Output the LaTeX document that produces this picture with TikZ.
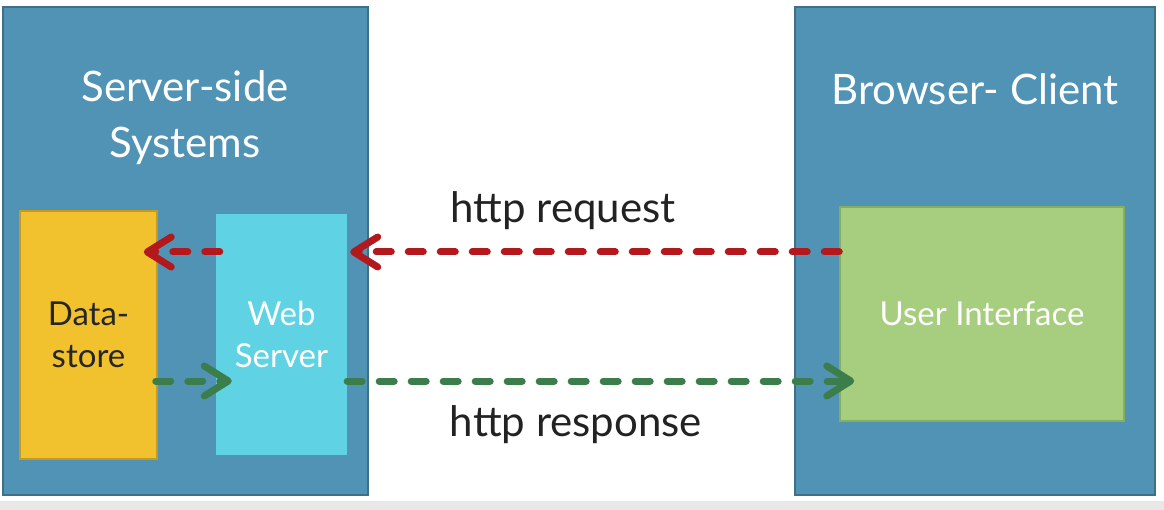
\documentclass[tikz,border=0pt]{standalone}
\usepackage{fontspec}
\setmainfont{Lato}
\usetikzlibrary{arrows.meta,calc}
\definecolor{panelblue}{HTML}{5093B5}
\definecolor{paneledge}{HTML}{3F6E87}
\definecolor{dsfill}{HTML}{F2C12E}
\definecolor{dsedge}{HTML}{C49A22}
\definecolor{wsfill}{HTML}{5FD3E3}
\definecolor{uifill}{HTML}{A7CE7F}
\definecolor{uiedge}{HTML}{86AE5E}
\definecolor{reqred}{HTML}{B3191C}
\definecolor{resgreen}{HTML}{3B7D4B}
\definecolor{labelgray}{HTML}{222222}
\begin{document}
\begin{tikzpicture}[x=1pt,y=-1pt,
  box/.style={rectangle, inner sep=0pt, align=center},
  panel/.style={box, draw=paneledge, line width=1.5pt, fill=panelblue},
  title/.style={align=center, text=white, font=\fontsize{42}{56}\selectfont},
  inner/.style={box, font=\fontsize{33}{42}\selectfont},
  lbl/.style={text=labelgray, font=\fontsize{42}{48}\selectfont},
  flow/.style={line width=7pt, line cap=round, dash pattern=on 15pt off 17pt,
    -{Straight Barb[length=24pt,width=30pt,line width=7pt,line cap=round,line join=round]}},
  req/.style={flow, draw=reqred},
  res/.style={flow, draw=resgreen}
]
\useasboundingbox (0,0) rectangle (1164,510);
\fill[white] (0,0) rectangle (1164,510);
\fill[gray!18] (0,501) rectangle (1164,510);

\node[panel, minimum width=365pt, minimum height=488pt] (srv) at (185.5,251) {};
\node[panel, minimum width=360pt, minimum height=488pt] (cli) at (975,251) {};

\node[title] (srvt) at (185,118) {Server-side\\Systems};
\node[title] (clit) at (975,89) {Browser- Client};

\node[inner, draw=dsedge, line width=1.5pt, fill=dsfill, text=black!85,
  minimum width=137pt, minimum height=248pt] (ds) at (88.5,335) {Data-\\store};
\node[inner, fill=wsfill, text=white,
  minimum width=131pt, minimum height=241pt] (ws) at (281.5,334.5) {Web\\Server};
\node[inner, draw=uiedge, line width=1.5pt, fill=uifill, text=white,
  minimum width=284pt, minimum height=214pt] (ui) at (982,314) {User Interface};

\coordinate (r1s) at ($(ui.west)+(0,-62)$);
\coordinate (r1e) at ($(ws.east)+(3,-82.5)$);
\coordinate (r2s) at ($(ws.west)+(4,-82.5)$);
\coordinate (r2e) at ($(ds.east)+(-14,-83)$);
\coordinate (g1s) at ($(ds.east)+(-2,46)$);
\coordinate (g1e) at ($(ws.west)+(16,46.5)$);
\coordinate (g2s) at ($(ws.east)+(0,46.5)$);
\coordinate (g2e) at ($(ui.west)+(15,67)$);

\draw[req] (r1s) -- (r1e);
\draw[req] (r2s) -- (r2e);
\draw[res] (g1s) -- (g1e);
\draw[res] (g2s) -- (g2e);

\node[lbl] (reql) at (563,211) {http request};
\node[lbl] (resl) at (576,425) {http response};
\end{tikzpicture}
\end{document}
